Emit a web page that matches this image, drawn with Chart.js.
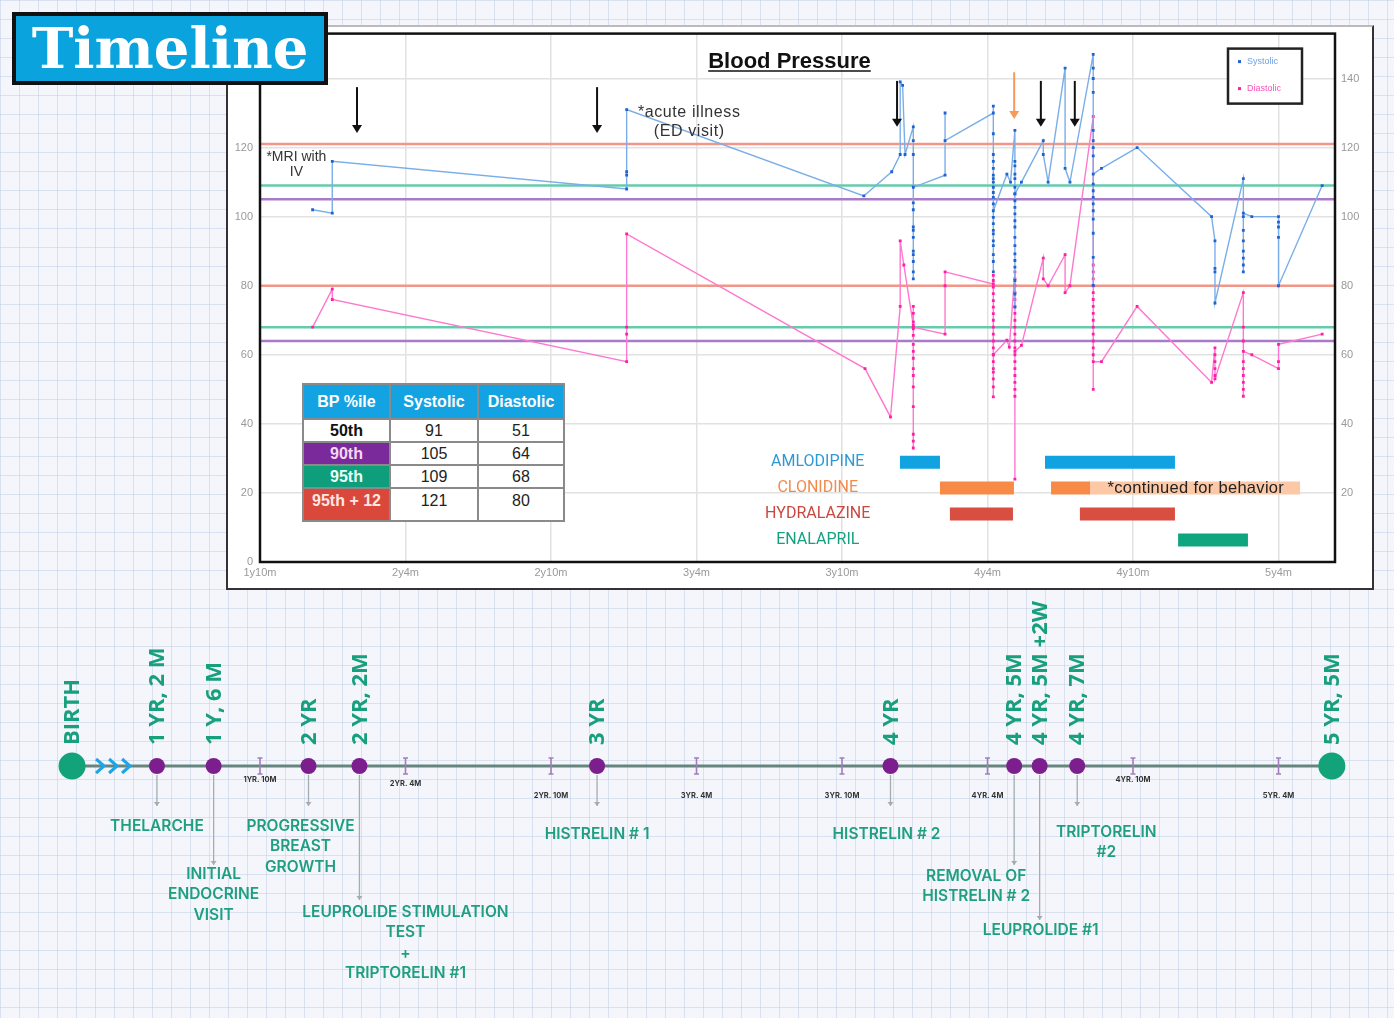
<!DOCTYPE html>
<html>
<head>
<meta charset="utf-8">
<script src="https://cdn.jsdelivr.net/npm/chart.js@4.4.1/dist/chart.umd.min.js"></script>
<style>
html, body { margin: 0; padding: 0; }
body {
    width: 1394px; height: 1018px; position: relative; overflow: hidden;
    background-color: #f4f6fb;
    background-image: linear-gradient(rgba(185,200,228,.45) 1px, transparent 1px),
                      linear-gradient(90deg, rgba(185,200,228,.45) 1px, transparent 1px);
    background-size: 19px 19px;
}
#title {
    position: absolute; left: 12px; top: 12px; width: 308px; height: 65px;
    background: #0ba3de; border: 4px solid #111; color: #fff;
    font: bold 56px "DejaVu Serif", serif; line-height: 64px; text-align: center; z-index: 5;
}
#bpbox {
    position: absolute; left: 226px; top: 25px; width: 1144px; height: 561px; overflow: hidden;
    border: 2px solid #333; border-top-color: #bbb; background: #fff;
}
#bpchart { position: absolute; left: 0; top: -7px; }
#timeline { position: absolute; left: 0; top: 590px; }
#bptable {
    position: absolute; left: 302px; top: 383px; border-collapse: collapse; z-index: 4;
    font-family: "Liberation Sans", Arial, sans-serif; font-size: 16px; text-align: center; background: #fff;
}
#bptable th, #bptable td { border: 2px solid #8a8a8a; padding: 0; }
#bptable th { background: #14a3e2; color: #fff; font-weight: bold; height: 33px; }
#bptable td { height: 21px; color: #222; }
#bptable td.p { font-weight: bold; }
</style>
</head>
<body>
<div id="title">Timeline</div>
<div id="bpbox"><canvas id="bpchart" width="1144" height="568"></canvas></div>
<table id="bptable"></table>
<canvas id="timeline" width="1394" height="428"></canvas>

<script>
// --- DATA ---
const xTickMonths = [22, 28, 34, 40, 46, 52, 58, 64];
const yTickValues = [0, 20, 40, 60, 80, 100, 120, 140];

// [age in months, mmHg]
const systolic = [
    [24.17, 102], [24.98, 101], [24.98, 116],
    [37.12, 108], [37.12, 112], [37.12, 113], [37.12, 131],
    [46.9, 106], [48.05, 113], [48.4, 118], [48.4, 139], [48.5, 138], [48.6, 118],
    [48.94, 126], [48.94, 122], [48.94, 118], [48.94, 82], [48.94, 84], [48.94, 87], [48.94, 89],
    [48.94, 90], [48.94, 94], [48.94, 96], [48.94, 97], [48.94, 102], [48.94, 104], [48.94, 108.5],
    [50.25, 112], [50.25, 130], [50.25, 122],
    [52.24, 130], [52.24, 132], [52.24, 124], [52.24, 118], [52.24, 116], [52.24, 114], [52.24, 112],
    [52.24, 111], [52.24, 110], [52.24, 108.5], [52.24, 107], [52.24, 105.6], [52.24, 103.7], [52.24, 84],
    [52.24, 87], [52.24, 89], [52.24, 91.6], [52.24, 93], [52.24, 95], [52.24, 96], [52.24, 98],
    [52.24, 99.8], [52.24, 101.7],
    [52.8, 112.3], [52.95, 110],
    [53.13, 125], [53.13, 116], [53.13, 114.7], [53.13, 112.3], [53.13, 111], [53.13, 108.5], [53.13, 106.6],
    [53.13, 104.6], [53.13, 102.7], [53.13, 100.8], [53.13, 98.8], [53.13, 97], [53.13, 94], [53.13, 91.6],
    [53.13, 89.2], [53.13, 87.3], [53.13, 85.4], [53.13, 81.5], [53.13, 77.6], [53.13, 73.8], [53.13, 106.6],
    [53.4, 110], [54.3, 122], [54.3, 118], [54.5, 110], [55.2, 143], [55.2, 114], [55.4, 110],
    [56.36, 147], [56.36, 143], [56.36, 140], [56.36, 136], [56.36, 125], [56.36, 122], [56.36, 120],
    [56.36, 117.6], [56.36, 109.4], [56.36, 107.5], [56.36, 105.6], [56.36, 103.7], [56.36, 101.7],
    [56.36, 99.3], [56.36, 95.2], [56.36, 88.2], [56.36, 80.1], [56.36, 112.3],
    [56.7, 114], [58.17, 120], [61.24, 100],
    [61.38, 93], [61.38, 85], [61.38, 84], [61.38, 75],
    [62.55, 111], [62.55, 84], [62.55, 86], [62.55, 88], [62.55, 90], [62.55, 93], [62.55, 96],
    [62.55, 100], [62.55, 101],
    [62.9, 100], [64.0, 100], [64.0, 98.4], [64.0, 97], [64.0, 94], [64.0, 80], [65.8, 109]
];
const diastolic = [
    [24.17, 68], [24.98, 79], [24.98, 76],
    [37.12, 58], [37.12, 66], [37.12, 68], [37.12, 95],
    [46.95, 56], [48.0, 42], [48.4, 74], [48.4, 93], [48.55, 86],
    [48.94, 68.5], [48.94, 74], [48.94, 72], [48.94, 69.5], [48.94, 67.5], [48.94, 65.6], [48.94, 63],
    [48.94, 61], [48.94, 59], [48.94, 56], [48.94, 54], [48.94, 50.7], [48.94, 45], [48.94, 37],
    [48.94, 35], [48.94, 33], [48.94, 68],
    [50.25, 66], [50.25, 80], [50.25, 84],
    [52.24, 80.5], [52.24, 83], [52.24, 81.5], [52.24, 79.6], [52.24, 77.7], [52.24, 75.7], [52.24, 73.8],
    [52.24, 71.9], [52.24, 70], [52.24, 68], [52.24, 66], [52.24, 64], [52.24, 62], [52.24, 60],
    [52.24, 58], [52.24, 56], [52.24, 55], [52.24, 53], [52.24, 50.7], [52.24, 47.8], [52.24, 60],
    [52.8, 64.2], [52.9, 62.2],
    [53.13, 84], [53.13, 82], [53.13, 80], [53.13, 78], [53.13, 76], [53.13, 74], [53.13, 72],
    [53.13, 70], [53.13, 68], [53.13, 66], [53.13, 64], [53.13, 62], [53.13, 60], [53.13, 58],
    [53.13, 56], [53.13, 54], [53.13, 52], [53.13, 50], [53.13, 48], [53.13, 24], [53.13, 61],
    [53.4, 62.7], [54.3, 88], [54.3, 82], [54.5, 80], [55.2, 89], [55.2, 78], [55.4, 80],
    [56.36, 129], [56.36, 86], [56.36, 84], [56.36, 82], [56.36, 80], [56.36, 78], [56.36, 76],
    [56.36, 74], [56.36, 72], [56.36, 70], [56.36, 68], [56.36, 66], [56.36, 64], [56.36, 62],
    [56.36, 60], [56.36, 50], [56.36, 58],
    [56.7, 58], [58.17, 74], [61.24, 52],
    [61.38, 62], [61.38, 60], [61.38, 58], [61.38, 56], [61.38, 54], [61.38, 53],
    [62.55, 78], [62.55, 68], [62.55, 64], [62.55, 58], [62.55, 56], [62.55, 54], [62.55, 52],
    [62.55, 50], [62.55, 48], [62.55, 61],
    [62.9, 60], [64.0, 56], [64.0, 58], [64.0, 63], [65.8, 66]
];

const pctLabels = ['50th', '90th', '95th', '95th + 12'];
const pctSystolic = [91, 105, 109, 121];
const pctDiastolic = [51, 64, 68, 80];

const medNames = ['AMLODIPINE', 'CLONIDINE', 'HYDRALAZINE', 'ENALAPRIL'];
const medPeriods = [
    [[48.39, 50.04], [54.37, 59.73]],
    [[50.04, 53.09], [54.62, 56.23]],
    [[50.45, 53.05], [55.81, 59.73]],
    [[59.86, 62.74]]
];
const clonidineBehavior = [[56.23, 64.89]];

const arrowMonths = [26.0, 35.9, 48.27, 54.2, 55.6];
const orangeArrowMonth = 53.1;

// ages as placed on the drawn timeline (months)
const timelineMonths = [0, 14, 18.4, 24, 26.1, 35.9, 48, 53.1, 54.15, 55.7, 66.2];
const timelineLabels = ['BIRTH', '1 YR, 2 M', '1 Y, 6 M', '2 YR', '2 YR, 2M', '3 YR', '4 YR',
    '4 YR, 5M', '4 YR, 5M +2W', '4 YR, 7M', '5 YR, 5M'];
const halfYearMonths = [22, 28, 34, 40, 46, 52, 58, 64];
const halfYearLabels = ['1YR. 10M', '2YR. 4M', '2YR. 10M', '3YR. 4M', '3YR. 10M', '4YR. 4M', '4YR. 10M', '5YR. 4M'];
const calloutEvents = [1, 2, 3, 4, 5, 6, 7, 8, 9];
const calloutTexts = [
    ['THELARCHE'],
    ['INITIAL', 'ENDOCRINE', 'VISIT'],
    ['PROGRESSIVE', 'BREAST', 'GROWTH'],
    ['LEUPROLIDE STIMULATION', 'TEST', '+', 'TRIPTORELIN #1'],
    ['HISTRELIN # 1'],
    ['HISTRELIN # 2'],
    ['REMOVAL OF', 'HISTRELIN # 2'],
    ['LEUPROLIDE #1'],
    ['TRIPTORELIN', '#2']
];

// --- TABLE ---
const cellBg = ['#ffffff', '#7b2a9c', '#0f9e7b', '#d9483b'];
const cellFg = ['#111', '#f4d8f4', '#e8fff6', '#ffe6e3'];
const rowH = [22, 21, 21, 33];
let html = '<tr><th style="width:85px">BP %ile</th><th style="width:86px">Systolic</th><th style="width:84px">Diastolic</th></tr>';
pctLabels.forEach((p, i) => {
    const va = i === 3 ? 'vertical-align:top;padding-top:3px;' : '';
    html += `<tr style="height:${rowH[i]}px"><td class="p" style="background:${cellBg[i]};color:${cellFg[i]};${va}">${p}</td>` +
        `<td style="${va}">${pctSystolic[i]}</td><td style="${va}">${pctDiastolic[i]}</td></tr>`;
});
document.getElementById('bptable').innerHTML = html;

// --- BLOOD PRESSURE CHART ---
const X_MIN = 22, X_MAX = 66.33;
const refColors = [null, '#a97bc6', '#66cbab', '#f2968a'];
const medColors = ['#11a2e2', '#f88a48', '#d84e40', '#0ea57f'];
const medText = ['#2d9ad6', '#f28a4b', '#c9483f', '#169f80'];
const medLevel = i => 28.9 - 7.5 * i;

const toPts = arr => arr.map(([x, y]) => ({ x, y }));
function barData(periods, level) {
    const d = [];
    periods.forEach(([s, e]) => d.push({ x: s, y: level }, { x: e, y: level }, { x: e, y: null }));
    return d;
}

const datasets = [
    { label: 'Systolic', data: toPts(systolic), borderColor: '#7aaee9', borderWidth: 1.4,
      pointStyle: 'rect', pointRadius: 2, pointBackgroundColor: '#1f63d3', pointBorderWidth: 0, order: 1 },
    { label: 'Diastolic', data: toPts(diastolic), borderColor: '#ff78cf', borderWidth: 1.4,
      pointStyle: 'rect', pointRadius: 2, pointBackgroundColor: '#ff1fa4', pointBorderWidth: 0, order: 2 }
];
[1, 2, 3].forEach(i => {
    [pctSystolic[i], pctDiastolic[i]].forEach(v => datasets.push({
        label: 'ref', data: [{ x: X_MIN, y: v }, { x: X_MAX, y: v }], borderColor: refColors[i],
        borderWidth: 2.5, pointRadius: 0, order: 6
    }));
});
datasets.push({ label: 'bar', data: barData(clonidineBehavior, medLevel(1)), borderColor: '#fcc8a6',
    borderWidth: 13, pointRadius: 0, spanGaps: false, borderCapStyle: 'butt', order: 4 });
medNames.forEach((n, i) => datasets.push({
    label: 'bar', data: barData(medPeriods[i], medLevel(i)), borderColor: medColors[i],
    borderWidth: 13, pointRadius: 0, spanGaps: false, borderCapStyle: 'butt', order: 3
}));

const tickFont = { family: '"Liberation Sans Narrow", "Arial Narrow", sans-serif', size: 11 };
const fmtAge = m => Math.floor(m / 12) + 'y' + (m % 12) + 'm';

const bpDecor = {
    id: 'bpDecor',
    afterDraw(chart) {
        const { ctx, chartArea: a, scales: { x, y } } = chart;
        ctx.save();
        ctx.strokeStyle = '#111';
        ctx.lineWidth = 2.5;
        ctx.strokeRect(a.left, a.top, a.right - a.left, a.bottom - a.top);

        // title
        const cx = (a.left + a.right) / 2 - 8;
        ctx.fillStyle = '#111';
        ctx.font = 'bold 22px "Liberation Sans", Arial, sans-serif';
        ctx.textAlign = 'center';
        ctx.textBaseline = 'alphabetic';
        ctx.fillText('Blood Pressure', cx, a.top + 34);
        const tw = ctx.measureText('Blood Pressure').width;
        ctx.lineWidth = 1.5;
        ctx.beginPath();
        ctx.moveTo(cx - tw / 2, a.top + 37.5);
        ctx.lineTo(cx + tw / 2, a.top + 37.5);
        ctx.stroke();

        // legend
        const lx = a.right - 107, ly = a.top + 15;
        ctx.fillStyle = '#fff';
        ctx.fillRect(lx, ly, 74, 55);
        ctx.lineWidth = 2.5;
        ctx.strokeStyle = '#222';
        ctx.strokeRect(lx, ly, 74, 55);
        ctx.font = '9px "Liberation Sans", Arial, sans-serif';
        ctx.textAlign = 'left';
        ctx.textBaseline = 'middle';
        [['Systolic', '#1f63d3', '#6f9fe6'], ['Diastolic', '#ff1fa4', '#ff4fbd']].forEach(([t, c, tc], i) => {
            ctx.fillStyle = c;
            ctx.fillRect(lx + 10, ly + 13 + i * 27 - 1.5, 3, 3);
            ctx.fillStyle = tc;
            ctx.fillText(t, lx + 19, ly + 13 + i * 27);
        });

        // arrows
        const drawArrow = (m, top, bottom, color) => {
            const px = x.getPixelForValue(m), t = y.getPixelForValue(top), b = y.getPixelForValue(bottom);
            ctx.strokeStyle = color;
            ctx.fillStyle = color;
            ctx.lineWidth = 2;
            ctx.beginPath();
            ctx.moveTo(px, t);
            ctx.lineTo(px, b - 6);
            ctx.stroke();
            ctx.beginPath();
            ctx.moveTo(px - 5, b - 8);
            ctx.lineTo(px + 5, b - 8);
            ctx.lineTo(px, b);
            ctx.closePath();
            ctx.fill();
        };
        arrowMonths.forEach(m => {
            if (m < 40) drawArrow(m, 137.5, 124.2, '#111');
            else drawArrow(m, 139.3, 126, '#111');
        });
        drawArrow(orangeArrowMonth, 141.8, 128.3, '#f79a55');

        // notes
        ctx.fillStyle = '#333';
        ctx.textAlign = 'center';
        ctx.font = '14px "Liberation Sans Narrow", "Arial Narrow", sans-serif';
        ctx.fillText('*MRI with', x.getPixelForValue(23.5), y.getPixelForValue(117.3));
        ctx.fillText('IV', x.getPixelForValue(23.5), y.getPixelForValue(113));
        ctx.font = '16px "Liberation Sans", Arial, sans-serif';
        ctx.letterSpacing = '0.6px';
        ctx.fillText('*acute illness', x.getPixelForValue(39.7), y.getPixelForValue(130.2));
        ctx.fillText('(ED visit)', x.getPixelForValue(39.7), y.getPixelForValue(124.7));
        ctx.letterSpacing = '0px';

        // medication labels
        ctx.font = '16px Roboto, sans-serif';
        medNames.forEach((n, i) => {
            ctx.fillStyle = medText[i];
            ctx.fillText(n, x.getPixelForValue(45), y.getPixelForValue(medLevel(i)));
        });
        ctx.fillStyle = '#222';
        ctx.font = '16.5px "Liberation Sans", Arial, sans-serif';
        ctx.letterSpacing = '0.3px';
        ctx.textAlign = 'left';
        ctx.fillText('*continued for behavior', x.getPixelForValue(56.95), y.getPixelForValue(medLevel(1)));
        ctx.restore();
    }
};

const bpChart = new Chart(document.getElementById('bpchart'), {
    type: 'line',
    data: { datasets },
    options: {
        responsive: false,
        animation: false,
        events: [],
        elements: { line: { tension: 0 } },
        layout: { padding: 0 },
        plugins: { legend: { display: false }, tooltip: { enabled: false } },
        scales: {
            x: {
                type: 'linear', min: X_MIN, max: X_MAX,
                afterBuildTicks: s => { s.ticks = xTickMonths.map(v => ({ value: v })); },
                afterFit: s => { s.height = 26; },
                grid: { color: '#e2e2e2', lineWidth: 1.5, drawTicks: false },
                border: { display: false },
                ticks: { callback: v => fmtAge(v), color: '#999', font: tickFont, padding: 4, maxRotation: 0, autoSkip: false }
            },
            y: {
                position: 'left', min: 0, max: 153,
                afterBuildTicks: s => { s.ticks = yTickValues.map(v => ({ value: v })); },
                afterFit: s => { s.width = 32; },
                grid: { color: '#e2e2e2', lineWidth: 1.5, drawTicks: false },
                border: { display: false },
                ticks: { color: '#999', font: tickFont, padding: 7 }
            },
            y2: {
                position: 'right', min: 0, max: 153,
                afterBuildTicks: s => { s.ticks = yTickValues.map(v => ({ value: v })); },
                afterFit: s => { s.width = 37; },
                grid: { display: false, drawTicks: false },
                border: { display: false },
                ticks: { color: '#999', font: tickFont, padding: 6, callback: v => v === 0 ? '' : v }
            }
        }
    },
    plugins: [bpDecor]
});

// --- TIMELINE ---
// same month scale as the chart above, with a compressed stretch before 1y10m (the >>> break)
const warpKnots = [[0, 14.25], [14, 17.75], [22, 22]];
function warpMonth(m) {
    if (m >= 22) return m;
    for (let i = 0; i < warpKnots.length - 1; i++) {
        const [a0, b0] = warpKnots[i], [a1, b1] = warpKnots[i + 1];
        if (m <= a1) return b0 + (m - a0) * (b1 - b0) / (a1 - a0);
    }
    return m;
}
class WarpScale extends Chart.LinearScale {
    getPixelForValue(v) {
        return super.getPixelForValue(v === null || v === undefined ? v : warpMonth(v));
    }
}
WarpScale.id = 'warp';
WarpScale.defaults = Chart.LinearScale.defaults;
Chart.register(WarpScale);

// line the timeline's months up with the chart's x axis
const tlCanvas = document.getElementById('timeline');
const bx = bpChart.scales.x;
const pxPerMonth = (bx.right - bx.left) / (X_MAX - X_MIN);
const offsetPx = document.getElementById('bpchart').getBoundingClientRect().left + bx.left - tlCanvas.getBoundingClientRect().left;
const TL_MIN = X_MIN - offsetPx / pxPerMonth;
const TL_MAX = TL_MIN + tlCanvas.width / pxPerMonth;

const tickLabelDrop = [14, 18, 30, 30, 30, 30, 14, 30];
// [arrow end below line, first text line below line, x shift]
const calloutLayout = [
    [40, 60, 0], [99, 108, 0], [40, 60, -8], [134, 146, 46], [40, 68, 0],
    [40, 68, -4], [99, 110, -38], [154, 164, 1], [40, 66, 29]
];
const lastIdx = timelineMonths.length - 1;
const isEnd = i => i === 0 || i === lastIdx;

const timelineDecor = {
    id: 'timelineDecor',
    afterDraw(chart) {
        const { ctx, scales: { x, y } } = chart;
        const y0 = y.getPixelForValue(0);
        ctx.save();

        // half-year marks
        halfYearMonths.forEach((m, i) => {
            const px = x.getPixelForValue(m);
            ctx.strokeStyle = '#a47cbc';
            ctx.lineWidth = 1.6;
            ctx.beginPath();
            ctx.moveTo(px, y0 - 8); ctx.lineTo(px, y0 + 8);
            ctx.moveTo(px - 2.5, y0 - 8); ctx.lineTo(px + 2.5, y0 - 8);
            ctx.moveTo(px - 2.5, y0 + 8); ctx.lineTo(px + 2.5, y0 + 8);
            ctx.stroke();
            ctx.fillStyle = '#333';
            ctx.font = 'bold 7.5px Inter, sans-serif';
            ctx.textAlign = 'center';
            ctx.textBaseline = 'middle';
            ctx.fillText(halfYearLabels[i], px, y0 + tickLabelDrop[i]);
        });

        // chevrons after birth
        const bpx = x.getPixelForValue(timelineMonths[0]);
        ctx.strokeStyle = '#1aa6ea';
        ctx.lineWidth = 3;
        [30, 43, 56].forEach(dx => {
            ctx.beginPath();
            ctx.moveTo(bpx + dx - 6, y0 - 7);
            ctx.lineTo(bpx + dx + 2, y0);
            ctx.lineTo(bpx + dx - 6, y0 + 7);
            ctx.stroke();
        });

        // rotated age labels
        ctx.fillStyle = '#18a07e';
        ctx.font = 'bold 22px "Open Sans", sans-serif';
        ctx.textAlign = 'left';
        ctx.textBaseline = 'middle';
        timelineMonths.forEach((m, i) => {
            const px = x.getPixelForValue(m);
            ctx.save();
            ctx.translate(px + 1, y0 - 21);
            ctx.rotate(-Math.PI / 2);
            ctx.fillText(timelineLabels[i], 0, 0);
            ctx.restore();
        });

        // callouts
        calloutEvents.forEach((ev, k) => {
            const px = x.getPixelForValue(timelineMonths[ev]);
            const [arrowEnd, textTop, dx] = calloutLayout[k];
            ctx.strokeStyle = '#a3adb0';
            ctx.fillStyle = '#a3adb0';
            ctx.lineWidth = 1.3;
            ctx.beginPath();
            ctx.moveTo(px, y0 + 9);
            ctx.lineTo(px, y0 + arrowEnd);
            ctx.stroke();
            ctx.beginPath();
            ctx.moveTo(px - 3, y0 + arrowEnd - 4);
            ctx.lineTo(px + 3, y0 + arrowEnd - 4);
            ctx.lineTo(px, y0 + arrowEnd);
            ctx.closePath();
            ctx.fill();
            ctx.fillStyle = '#1f9f80';
            ctx.font = '600 15.5px Inter, sans-serif';
            ctx.textAlign = 'center';
            calloutTexts[k].forEach((line, j) => ctx.fillText(line, px + dx, y0 + textTop + j * 20.5));
        });
        ctx.restore();
    }
};

// points are fed latest-first so the line controller keeps every one of them
const timelinePts = timelineMonths.map((m, i) => ({ x: m, y: 0, i })).reverse();

new Chart(tlCanvas, {
    type: 'line',
    data: {
        datasets: [{
            data: timelinePts,
            borderColor: '#67857f',
            borderWidth: 3,
            clip: false,
            pointStyle: 'circle',
            pointRadius: c => isEnd(c.raw.i) ? 13.5 : 8,
            pointBackgroundColor: c => isEnd(c.raw.i) ? '#12a37b' : '#7c1e8e',
            pointBorderWidth: 0
        }]
    },
    options: {
        responsive: false,
        animation: false,
        events: [],
        layout: { autoPadding: false, padding: { left: 0, right: 0, top: 126, bottom: 202 } },
        plugins: { legend: { display: false }, tooltip: { enabled: false } },
        scales: {
            x: { type: 'warp', min: TL_MIN, max: TL_MAX, display: false },
            y: { min: -1, max: 1, display: false }
        }
    },
    plugins: [timelineDecor]
});
</script>
</body>
</html>
